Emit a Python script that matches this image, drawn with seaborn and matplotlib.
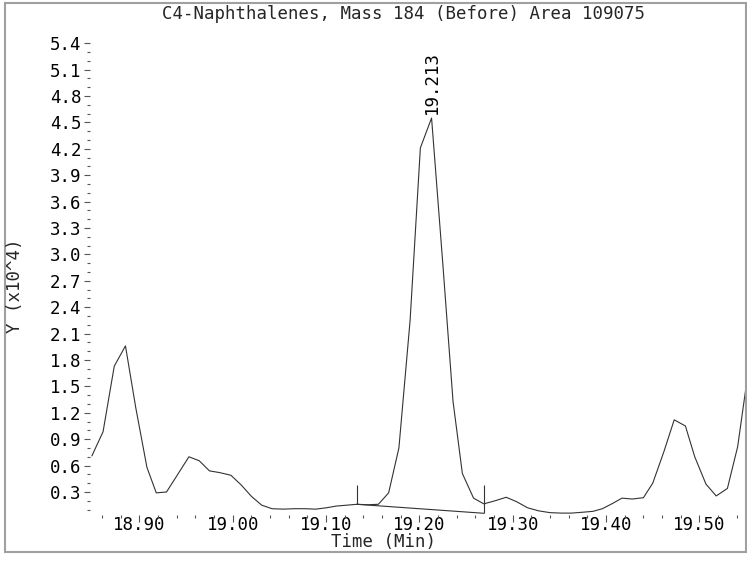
import matplotlib
matplotlib.use("Agg")
import matplotlib.pyplot as plt
from matplotlib.patches import Rectangle
from matplotlib.ticker import MultipleLocator, FormatStrFormatter
import numpy as np
import pandas as pd
import seaborn as sns

# chromatogram trace (time in min, signal in 1e4 counts)
time_min = [18.849, 18.861, 18.873, 18.885, 18.896, 18.908, 18.918, 18.929, 18.941, 18.953,
            18.964, 18.975, 18.986, 18.998, 19.009, 19.020, 19.031, 19.042, 19.054, 19.066,
            19.077, 19.089, 19.100, 19.111, 19.122, 19.133, 19.145, 19.156, 19.167, 19.178,
            19.190, 19.201, 19.213, 19.225, 19.236, 19.246, 19.258, 19.269, 19.281, 19.293,
            19.304, 19.316, 19.328, 19.340, 19.352, 19.363, 19.375, 19.386, 19.396, 19.407,
            19.417, 19.428, 19.440, 19.450, 19.462, 19.473, 19.485, 19.495, 19.507, 19.518,
            19.530, 19.541, 19.551]
signal = [0.71, 0.985, 1.73, 1.96, 1.26, 0.58, 0.29, 0.30, 0.50, 0.70,
          0.655, 0.54, 0.52, 0.49, 0.38, 0.25, 0.15, 0.11, 0.105, 0.11,
          0.11, 0.105, 0.12, 0.14, 0.15, 0.16, 0.155, 0.16, 0.29, 0.80,
          2.25, 4.21, 4.55, 2.90, 1.33, 0.51, 0.23, 0.165, 0.20, 0.24,
          0.19, 0.12, 0.085, 0.065, 0.06, 0.06, 0.07, 0.08, 0.11, 0.17,
          0.23, 0.22, 0.235, 0.40, 0.76, 1.12, 1.05, 0.70, 0.39, 0.255,
          0.34, 0.815, 1.57]

# integration baseline and its start / end markers
base_time = [19.133, 19.269]
base_level = [0.16, 0.058]
marker_top = 0.38

peak_time = 19.213
peak_height = 4.55
peak_label = "19.213"

title = "C4-Naphthalenes, Mass 184 (Before) Area 109075"
xlabel = "Time (Min)"
ylabel = "Y (x10^4)"

W, H = 747, 562
df = pd.DataFrame({"time": time_min, "y": signal})

sns.set_style("white")
plt.rcParams["font.family"] = ["DejaVu Sans Mono", "DejaVu Sans"]
fs = 12.5
ink = "#333333"

fig = plt.figure(figsize=(W / 100, H / 100), dpi=100)
ax = fig.add_axes([90 / W, 1 - 515.3 / H, (W - 90) / W, (515.3 - 38.8) / H])

sns.lineplot(data=df, x="time", y="y", ax=ax, color=ink, linewidth=0.8,
             estimator=None, sort=False)

# baseline + vertical markers
ax.plot(base_time, base_level, color=ink, linewidth=0.8)
ax.vlines(base_time, base_level, [marker_top, marker_top], color=ink, linewidth=0.8)

ax.annotate(peak_label, (peak_time, peak_height), xytext=(0, 3),
            textcoords="offset points", rotation=90, ha="center", va="bottom",
            fontsize=fs, color="black")

ax.set_xlim(18.847, 19.551)
ax.set_ylim(0.035, 5.45)
for s in ax.spines.values():
    s.set_visible(False)

ax.xaxis.set_major_locator(MultipleLocator(0.1))
ax.xaxis.set_minor_locator(MultipleLocator(0.02))
ax.xaxis.set_major_formatter(FormatStrFormatter("%.2f"))
ax.yaxis.set_major_locator(MultipleLocator(0.3))
ax.yaxis.set_minor_locator(MultipleLocator(0.1))
ax.yaxis.set_major_formatter(FormatStrFormatter("%.1f"))

ax.tick_params(axis="both", which="both", direction="out", color="#555555",
               width=0.8, labelsize=fs, labelcolor="black")
ax.tick_params(axis="x", which="major", length=5, pad=-4.5)
ax.tick_params(axis="x", which="minor", length=2.5)
ax.tick_params(axis="y", which="major", length=4.5, pad=1.5)
ax.tick_params(axis="y", which="minor", length=2)
ax.tick_params(left=True, bottom=True, which="both")
ax.set_xlabel("")
ax.set_ylabel("")

fig.text(403 / W, 1 - 14 / H, title, ha="center", va="center", fontsize=fs)
fig.text(383.5 / W, 1 - 542 / H, xlabel, ha="center", va="center", fontsize=fs)
fig.text(15 / W, 1 - 286 / H, ylabel, ha="center", va="center", rotation=90, fontsize=fs)

fig.add_artist(Rectangle((5 / W, 1 - 552 / H), 741 / W, 549 / H, transform=fig.transFigure,
                         fill=False, edgecolor="#a0a0a0", linewidth=1.5))

fig.savefig("out.png", dpi=100)
